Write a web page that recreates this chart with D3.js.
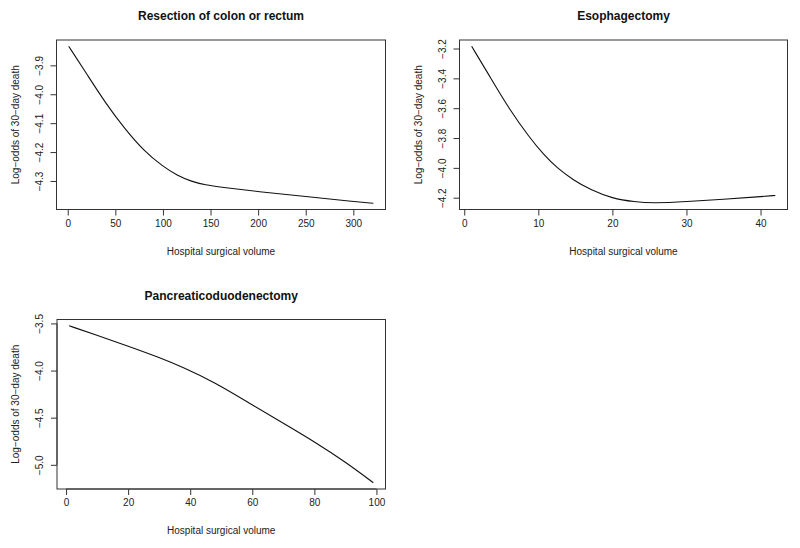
<!DOCTYPE html>
<html>
<head>
<meta charset="utf-8">
<script src="https://cdn.jsdelivr.net/npm/d3@7"></script>
<style>
  body { margin: 0; background: #fff; }
  svg { font-family: "Liberation Sans", Arial, sans-serif; }
</style>
</head>
<body>
<svg id="chart" width="800" height="548"></svg>
<script>
// volume vs log-odds
const colonVolume = [1, 20, 40, 60, 80, 100, 115, 130, 145, 160, 200, 250, 300, 321];
const colonLogOdds = [-3.834, -3.93, -4.032, -4.12, -4.196, -4.25, -4.281, -4.302, -4.314, -4.321, -4.337, -4.354, -4.371, -4.377];

const esophVolume = [1, 3.6, 6, 8.85, 10.7, 12.5, 14.75, 17, 20, 23, 25.5, 30, 35, 40, 42];
const esophLogOdds = [-3.185, -3.4, -3.6, -3.8, -3.91, -4.0, -4.083, -4.146, -4.206, -4.228, -4.237, -4.227, -4.21, -4.193, -4.185];

const pancVolume = [1, 10, 20, 30, 37, 48, 60, 70, 80, 90, 99];
const pancLogOdds = [-3.525, -3.627, -3.74, -3.86, -3.955, -4.125, -4.365, -4.56, -4.755, -4.97, -5.19];

const colonXTicks = [0, 50, 100, 150, 200, 250, 300];
const colonYTicks = [-4.3, -4.2, -4.1, -4.0, -3.9];
const esophXTicks = [0, 10, 20, 30, 40];
const esophYTicks = [-4.2, -4.0, -3.8, -3.6, -3.4, -3.2];
const pancXTicks = [0, 20, 40, 60, 80, 100];
const pancYTicks = [-5.0, -4.5, -4.0, -3.5];

const panels = [
  {title: "Resection of colon or rectum", x: colonVolume, y: colonLogOdds, xt: colonXTicks, yt: colonYTicks,
   box: {left: 56.5, right: 385.5, top: 40, bottom: 209.5}},
  {title: "Esophagectomy", x: esophVolume, y: esophLogOdds, xt: esophXTicks, yt: esophYTicks,
   box: {left: 459.5, right: 787.5, top: 40, bottom: 209.5}},
  {title: "Pancreaticoduodenectomy", x: pancVolume, y: pancLogOdds, xt: pancXTicks, yt: pancYTicks,
   box: {left: 57, right: 385.5, top: 319.5, bottom: 489}}
];

const svg = d3.select("#chart");
const axisColor = "#333";

// R-style 4% padding on each side
function padded(vals) {
  const [lo, hi] = d3.extent(vals);
  const e = (hi - lo) * 0.04;
  return [lo - e, hi + e];
}

const fmt = d3.format(".1f");

panels.forEach(p => {
  const b = p.box;
  const x = d3.scaleLinear().domain(padded(p.x)).range([b.left, b.right]);
  const y = d3.scaleLinear().domain(padded(p.y)).range([b.bottom, b.top]);
  const g = svg.append("g");

  g.append("rect")
    .attr("x", b.left).attr("y", b.top)
    .attr("width", b.right - b.left).attr("height", b.bottom - b.top)
    .attr("fill", "none").attr("stroke", axisColor).attr("stroke-width", 1);

  // x axis
  const xa = g.append("g").attr("transform", "translate(0," + b.bottom + ")")
    .call(d3.axisBottom(x).tickValues(p.xt).tickSize(6).tickPadding(4).tickFormat(d3.format("d")));
  xa.select(".domain").attr("d", "M" + x(p.xt[0]) + ",0H" + x(p.xt[p.xt.length - 1]));
  xa.selectAll("line, path").attr("stroke", axisColor);
  xa.selectAll("text").attr("font-size", 10).attr("fill", "#222")
    .attr("font-family", "Liberation Sans, Arial, sans-serif");

  // y axis, labels turned like R
  const ya = g.append("g").attr("transform", "translate(" + b.left + ",0)")
    .call(d3.axisLeft(y).tickValues(p.yt).tickSize(6).tickFormat(fmt));
  ya.select(".domain").attr("d", "M0," + y(p.yt[0]) + "V" + y(p.yt[p.yt.length - 1]));
  ya.selectAll("line, path").attr("stroke", axisColor);
  ya.selectAll("text")
    .attr("x", null).attr("dy", null)
    .attr("transform", "translate(-14,0) rotate(-90)")
    .attr("text-anchor", "middle")
    .attr("font-size", 10).attr("fill", "#222")
    .attr("font-family", "Liberation Sans, Arial, sans-serif");

  g.append("path")
    .datum(p.x.map((v, i) => [v, p.y[i]]))
    .attr("fill", "none").attr("stroke", "#111").attr("stroke-width", 1.1)
    .attr("d", d3.line().x(d => x(d[0])).y(d => y(d[1])).curve(d3.curveBasis));

  g.append("text")
    .attr("x", (b.left + b.right) / 2).attr("y", b.top - 20)
    .attr("text-anchor", "middle").attr("font-size", 12).attr("font-weight", "bold")
    .attr("fill", "#111").text(p.title);

  g.append("text")
    .attr("x", (b.left + b.right) / 2).attr("y", b.bottom + 45)
    .attr("text-anchor", "middle").attr("font-size", 10).attr("fill", "#222")
    .text("Hospital surgical volume");

  g.append("text")
    .attr("transform", "translate(" + (b.left - 38) + "," + ((b.top + b.bottom) / 2) + ") rotate(-90)")
    .attr("text-anchor", "middle").attr("font-size", 10).attr("fill", "#222")
    .text("Log\u2212odds of 30\u2212day death");
});
</script>
</body>
</html>
